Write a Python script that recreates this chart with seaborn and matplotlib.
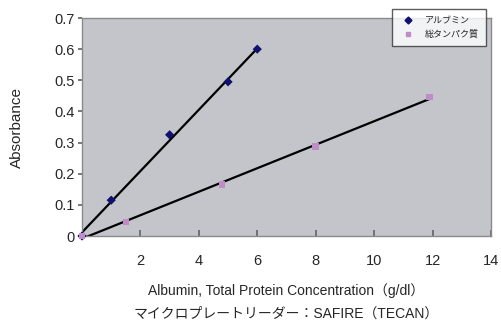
import numpy as np
import pandas as pd
import seaborn as sns
import matplotlib
matplotlib.use("Agg")
import matplotlib.pyplot as plt
from matplotlib.lines import Line2D

sns.set_theme(style="white")
plt.rcParams['font.family'] = ['Liberation Sans', 'Noto Sans CJK JP', 'DejaVu Sans']

# Data
alb_x = [0, 1, 3, 5, 6]
alb_y = [0, 0.115, 0.325, 0.495, 0.600]
tp_x = [0, 1.5, 4.8, 8.0, 11.9]
tp_y = [0, 0.045, 0.165, 0.288, 0.447]
series_names = ["アルブミン", "総タンパク質"]
xticks = [2, 4, 6, 8, 10, 12, 14]
yticks = [0, 0.1, 0.2, 0.3, 0.4, 0.5, 0.6, 0.7]
ytick_labels = ["0", "0.1", "0.2", "0.3", "0.4", "0.5", "0.6", "0.7"]

df = pd.concat([
    pd.DataFrame({"x": alb_x, "y": alb_y, "s": series_names[0]}),
    pd.DataFrame({"x": tp_x, "y": tp_y, "s": series_names[1]}),
])

fig = plt.figure(figsize=(5.02, 3.29), dpi=100)
ax = fig.add_axes([82/502, 1-236/329, (491-82)/502, (236-18)/329])
ax.set_facecolor("#c3c5cb")

# trend lines (linear fits)
for xs, ys in [(alb_x, alb_y), (tp_x, tp_y)]:
    k, b = np.polyfit(xs, ys, 1)
    lx = np.array([0, max(xs)])
    sns.lineplot(x=lx, y=k * lx + b, ax=ax, color="black", lw=1.6, zorder=2)

palette = {series_names[0]: "#101070", series_names[1]: "#c08cc8"}
sns.scatterplot(data=df, x="x", y="y", hue="s", style="s",
                markers={series_names[0]: "D", series_names[1]: "s"},
                palette=palette, s=22, edgecolor="none", ax=ax, zorder=3,
                legend=False, clip_on=False)

ax.set_xlim(0, 14)
ax.set_ylim(0, 0.7)
ax.set_xticks(xticks)
ax.set_xticklabels([str(t) for t in xticks], fontsize=10.5)
ax.set_yticks(yticks)
ax.set_yticklabels(ytick_labels, fontsize=10.5)
ax.tick_params(axis="x", direction="in", length=4, color="#666666", pad=13, bottom=True)
ax.tick_params(axis="y", direction="out", length=3, color="#666666", pad=2, left=True)
for sp in ax.spines.values():
    sp.set_color("#8a8a8a")
    sp.set_linewidth(1.0)

ax.set_xlabel("Albumin, Total Protein Concentration（g/dl）\nマイクロプレートリーダー：SAFIRE（TECAN）",
              fontsize=10, labelpad=11, linespacing=1.75)
ax.set_ylabel("Absorbance", fontsize=11, labelpad=22)

# legend
handles = [Line2D([], [], marker="D", ls="none", color=palette[series_names[0]], markersize=3.5),
           Line2D([], [], marker="s", ls="none", color=palette[series_names[1]], markersize=3.5)]
leg = fig.legend(handles, series_names, loc="upper left", bbox_to_anchor=(392/502, 1-9/329),
                 fontsize=6.5, frameon=True, fancybox=False, edgecolor="#333333",
                 borderpad=0.8, handletextpad=0.8, labelspacing=0.5, borderaxespad=0)
leg.get_frame().set_linewidth(1.0)

fig.savefig("out.png", dpi=100)
